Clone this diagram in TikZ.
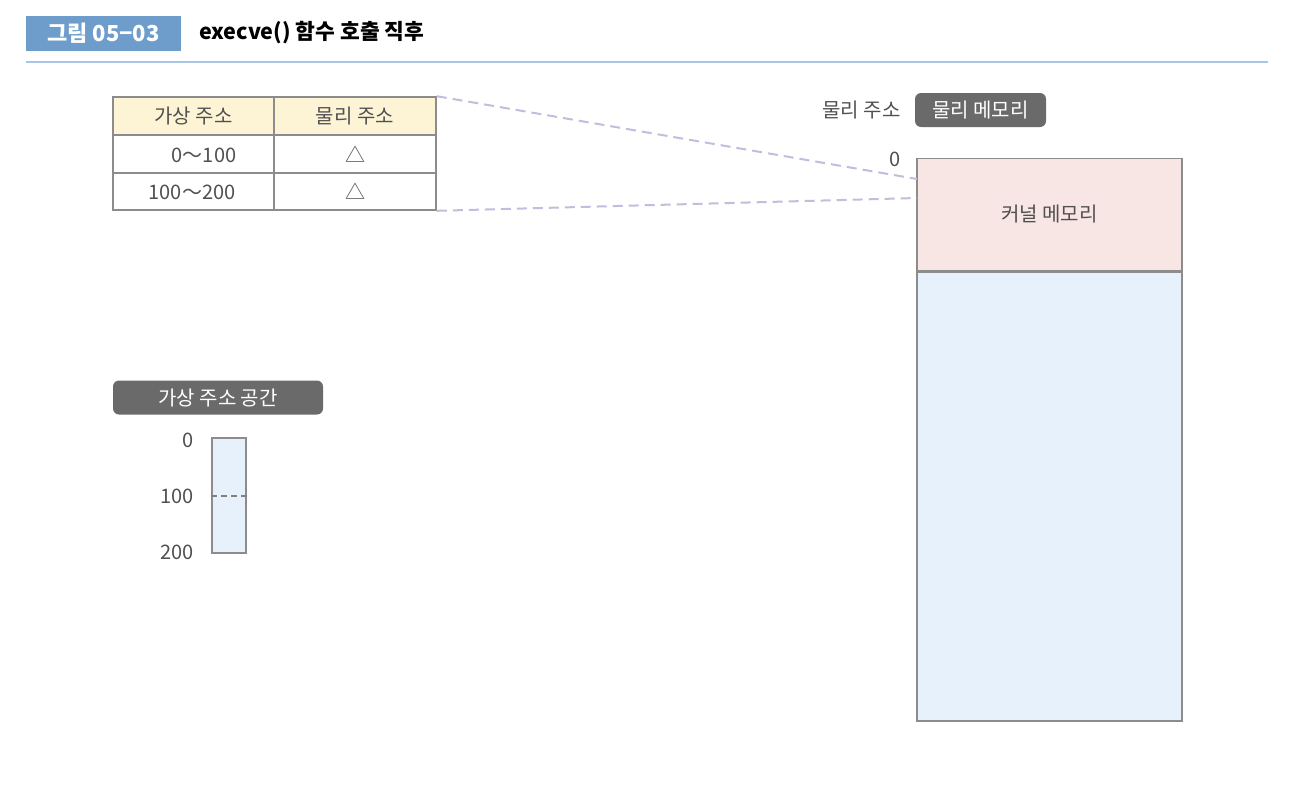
\documentclass[tikz,border=0pt]{standalone}
\usepackage{fontspec}
\setmainfont{Noto Sans CJK KR}
\usetikzlibrary{positioning}
\definecolor{figblue}{HTML}{6E9DCB}
\definecolor{rulebl}{HTML}{A8C6E6}
\definecolor{linegray}{HTML}{8C8C8C}
\definecolor{txtgray}{HTML}{505050}
\definecolor{tagdark}{HTML}{6A6A6A}
\definecolor{headfill}{HTML}{FDF4D5}
\definecolor{kernfill}{HTML}{F8E6E4}
\definecolor{memfill}{HTML}{E6F1FB}
\definecolor{mapline}{HTML}{C4BBDD}
\begin{document}
\begin{tikzpicture}[x=1pt,y=-1pt,font=\fontsize{20}{23}\selectfont,text=txtgray]
\tikzstyle{every node}+=[inner sep=0pt]
\tikzstyle{cell}=[draw=linegray,line width=1.6pt,minimum height=38pt]
\tikzstyle{tag}=[fill=tagdark,text=white,rounded corners=6pt,minimum height=34pt]
\tikzstyle{mem}=[draw=linegray,line width=1.8pt,minimum width=265pt]
\tikzstyle{mapto}=[draw=mapline,line width=2pt,dash pattern=on 10pt off 6pt]
\useasboundingbox (0,0) rectangle (1312,796);
% title
\node [fill=figblue,text=white,minimum width=155pt,minimum height=35pt,font=\fontsize{22}{25}\selectfont\bfseries] (fig) at (103.5,33) {그림 05−03};
\node [anchor=west,text=black,font=\fontsize{21.5}{25}\selectfont\bfseries] (title) at (199,33) {execve() 함수 호출 직후};
\draw [rulebl,line width=2pt] (26,62) -- (1268,62);
% page table
\node [cell,fill=headfill,minimum width=161pt] (va) at (193.5,116) {가상 주소};
\node [cell,fill=headfill,minimum width=162pt] (pa) at (355,116) {물리 주소};
\node [cell,minimum width=161pt] (va0) at (193.5,154) {};
\node [cell,minimum width=162pt] (pa0) at (355,154) {△};
\node [cell,minimum width=161pt,minimum height=37pt] (va1) at (193.5,191.5) {};
\node [cell,minimum width=162pt,minimum height=37pt] (pa1) at (355,191.5) {△};
\node at (204,155) {0～100};
\node at (192,192) {100～200};
% physical memory
\node [tag,minimum width=131pt] (phystag) at (980.5,110) {물리 메모리};
\node [left=14pt of phystag] (physlbl) {물리 주소};
\node [mem,fill=kernfill,minimum height=112pt] (kern) at (1049.5,214.5) {커널 메모리};
\node [mem,fill=memfill,minimum height=449pt,below=0pt of kern] (user) {};
\node [anchor=east] (zero) at (901,159) {0};
\coordinate (kin0) at (917,179);
\coordinate (kin1) at (917,198);
\draw [mapto] (pa.north east) -- (kin0);
\draw [mapto] (pa1.south east) -- (kin1);
% virtual address space
\node [tag,minimum width=210pt] (vastag) at (218,397.5) {가상 주소 공간};
\node [draw=linegray,line width=1.8pt,fill=memfill,minimum width=34pt,minimum height=115pt] (vas) at (229,495.5) {};
\draw [draw=gray,line width=2pt,dash pattern=on 6pt off 4pt] (vas.west) -- (vas.east);
\node [anchor=east] (v0) at (194,440) {0};
\node [anchor=east] (v100) at (194,496) {100};
\node [anchor=east] (v200) at (194,552) {200};
\end{tikzpicture}
\end{document}
